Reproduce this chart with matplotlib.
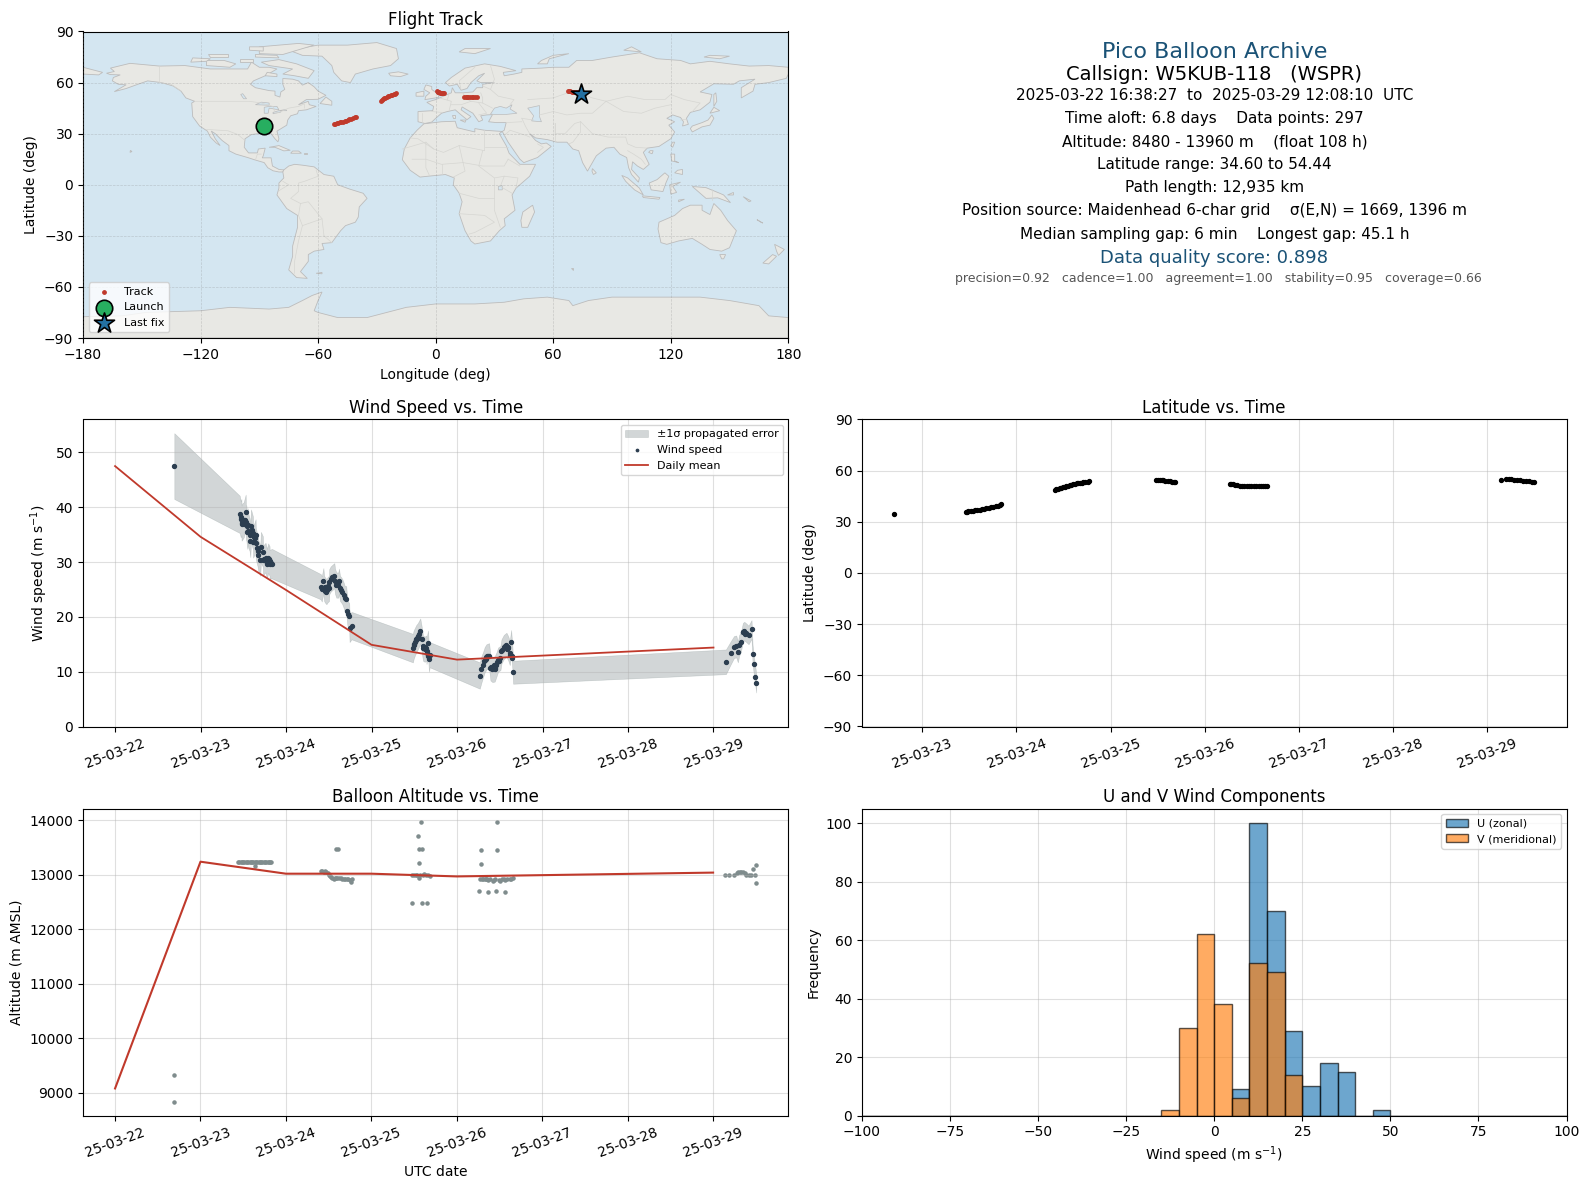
## Pico balloon flight summary figure, W5KUB-118
import matplotlib
matplotlib.use('Agg')
import matplotlib.pyplot as plt
import matplotlib.dates as mdates
import numpy as np
import pandas as pd

plt.rcParams['font.size'] = 10
plt.rcParams['font.family'] = 'DejaVu Sans'

# days are fractional days of March 2025
wind_day = [22.693,
            23.458, 23.470, 23.478, 23.480, 23.489, 23.505, 23.528, 23.530, 23.536, 23.547, 23.555, 23.559,
            23.574, 23.582, 23.590, 23.613, 23.615, 23.632, 23.644, 23.646, 23.667, 23.675, 23.698, 23.706,
            23.729, 23.731, 23.760, 23.776, 23.791, 23.807, 23.809, 23.834,
            24.406, 24.418, 24.437, 24.445, 24.456, 24.472, 24.484, 24.503, 24.505, 24.522, 24.542, 24.565,
            24.573, 24.588, 24.611, 24.619, 24.631, 24.646, 24.658, 24.673, 24.685, 24.704, 24.716, 24.723,
            24.739, 24.743, 24.766,
            25.484, 25.492, 25.508, 25.523, 25.543, 25.570, 25.586, 25.602, 25.621, 25.641, 25.643, 25.660,
            25.672, 25.680,
            26.266, 26.285, 26.305, 26.324, 26.344, 26.375, 26.391, 26.414, 26.441, 26.461, 26.480, 26.508,
            26.520, 26.547, 26.578, 26.598, 26.617, 26.633, 26.648, 26.656,
            29.145, 29.200, 29.240, 29.266, 29.285, 29.300, 29.320, 29.344, 29.360, 29.383, 29.410, 29.445,
            29.457, 29.470, 29.490, 29.500]
wind_speed = [47.5,
              38.7, 37.8, 38.2, 37.1, 37.4, 37.7, 39.1, 37.3, 37.1, 35.4, 36.7, 35.7,
              35.0, 33.9, 36.6, 35.3, 33.7, 34.3, 34.9, 33.4, 32.0, 31.2, 30.3, 32.7,
              31.9, 30.3, 30.8, 29.7, 30.7, 30.2, 29.6, 29.7,
              25.5, 25.1, 26.6, 25.2, 24.9, 24.6, 24.9, 25.2, 26.4, 26.9, 27.2, 27.5,
              26.5, 25.8, 25.8, 26.5, 25.2, 24.9, 24.6, 24.0, 23.4, 23.2, 21.0, 20.5,
              20.1, 17.9, 18.4,
              14.3, 14.9, 15.5, 16.0, 16.5, 17.4, 16.0, 14.3, 14.1, 14.3, 13.7, 15.2,
              12.3, 13.1,
              9.3, 10.4, 11.3, 12.2, 12.7, 12.9, 10.7, 10.4, 10.5, 11.3, 12.2, 12.5,
              13.7, 14.5, 14.9, 14.3, 13.4, 15.4, 12.5, 9.9,
              11.8, 13.4, 14.5, 14.6, 13.6, 14.8, 15.4, 17.2, 17.4, 17.1, 16.7, 17.7,
              13.2, 11.4, 9.1, 7.9]
wind_sigma = [6.0,
              3.4, 3.3, 3.3, 3.2, 3.3, 3.2, 3.2, 3.2, 3.2, 3.0, 3.1, 3.1,
              3.0, 3.0, 3.0, 3.0, 2.9, 2.9, 2.9, 2.9, 2.8, 2.8, 2.8, 2.8,
              2.8, 2.7, 2.7, 2.7, 2.7, 2.7, 2.6, 2.7,
              2.3, 2.3, 2.3, 2.3, 2.3, 2.3, 2.3, 2.3, 2.3, 2.3, 2.3, 2.3,
              2.3, 2.3, 2.3, 2.3, 2.3, 2.3, 2.3, 2.3, 2.3, 2.4, 2.4, 2.4,
              2.4, 2.5, 2.5,
              2.6, 2.6, 2.5, 2.5, 2.4, 2.3, 2.3, 2.3, 2.3, 2.3, 2.3, 2.3,
              2.3, 2.3,
              2.4, 2.4, 2.3, 2.3, 2.3, 2.3, 2.3, 2.3, 2.3, 2.2, 2.2, 2.2,
              2.2, 2.2, 2.2, 2.2, 2.2, 2.2, 2.1, 2.1,
              2.25, 2.1, 2.0, 2.0, 1.9, 1.9, 1.8, 1.7, 1.7, 1.7, 1.7, 1.7,
              1.7, 1.7, 1.7, 1.7]
# more dots read off the dense parts of the clusters, no band for these
extra_wind_day = [23.49, 23.51, 23.52, 23.54, 23.60, 23.62, 23.66, 23.74, 23.77, 23.80, 23.82,
                  24.43, 24.45, 24.46, 24.47, 24.49,
                  25.50, 25.52, 25.535, 25.55, 25.56, 25.60, 25.61, 25.63, 25.65, 25.665,
                  26.32, 26.34, 26.35, 26.36, 26.40, 26.42, 26.43, 26.45, 26.47, 26.49, 26.53, 26.56, 26.58,
                  26.60, 26.625, 26.64,
                  29.35, 29.37]
extra_wind_speed = [37.0, 36.9, 37.6, 36.5, 35.8, 34.6, 32.5, 30.6, 30.2, 30.5, 29.9,
                    25.2, 25.5, 24.8, 25.4, 25.6,
                    15.0, 15.7, 16.2, 16.2, 16.8, 14.6, 14.3, 14.5, 13.4, 12.9,
                    12.0, 12.4, 12.8, 12.9, 10.8, 10.9, 11.2, 10.7, 11.7, 12.0, 14.0, 14.7, 14.2,
                    14.5, 13.0, 12.8,
                    17.2, 16.9]

# daily means only exist on days with data, so no 27 and 28 March
mean_day = [22, 23, 24, 25, 26, 29]
mean_wind = [47.5, 34.6, 24.9, 14.9, 12.2, 14.4]
mean_alt = [9080, 13240, 13020, 13020, 12970, 13040]

alt_day = [22.693, 22.693,
           23.44, 23.455, 23.47, 23.485, 23.50, 23.515, 23.53, 23.545, 23.56, 23.575, 23.59, 23.605, 23.62, 23.635,
           23.64, 23.65, 23.665, 23.68, 23.695, 23.71, 23.725, 23.74, 23.755, 23.77, 23.785, 23.80, 23.815, 23.83,
           24.405, 24.42, 24.44, 24.455, 24.47, 24.49, 24.507, 24.52, 24.53, 24.545, 24.562, 24.575, 24.585, 24.59, 24.60,
           24.609, 24.62, 24.646, 24.66, 24.675, 24.69, 24.71, 24.73, 24.745, 24.757, 24.77,
           25.48, 25.48, 25.50, 25.52, 25.53, 25.545, 25.555, 25.56, 25.57, 25.58, 25.587, 25.59, 25.56, 25.60,
           25.62, 25.64, 25.65, 25.665, 25.69,
           26.26, 26.27, 26.28, 26.28, 26.29, 26.31, 26.33, 26.34, 26.355, 26.36, 26.37, 26.39, 26.42, 26.435, 26.45,
           26.46, 26.47, 26.47, 26.49, 26.51, 26.53, 26.55, 26.56, 26.57, 26.59, 26.62, 26.64, 26.66,
           29.14, 29.19, 29.25, 29.28, 29.295, 29.31, 29.33, 29.35, 29.37, 29.39, 29.415, 29.44, 29.47, 29.495, 29.50, 29.505]
alt_m = [8840, 9330,
         13240, 13240, 13240, 13240, 13240, 13240, 13240, 13240, 13240, 13240, 13240, 13240, 13240, 13240,
         13170, 13240, 13240, 13240, 13240, 13240, 13240, 13240, 13240, 13240, 13240, 13240, 13240, 13240,
         13075, 13070, 13060, 13065, 13060, 13030, 13000, 12980, 12960, 12940, 12920, 12935, 13470, 12950, 12945,
         13470, 12945, 12940, 12930, 12925, 12915, 12925, 12930, 12905, 12875, 12925,
         13000, 12490, 13000, 13000, 12990, 13720, 13220, 12940, 13000, 13960, 13480, 12490, 13480, 13000,
         13010, 13000, 12490, 13005, 12985,
         12700, 12930, 13460, 13200, 12930, 12925, 12915, 12915, 12925, 12690, 12905, 12915, 12880, 12900, 12925,
         12700, 13460, 13960, 12910, 12880, 12920, 12925, 12690, 12900, 12915, 12920, 12930, 12940,
         13000, 12995, 13000, 13030, 13050, 13055, 13060, 13055, 13030, 13000, 12995, 12995, 13105, 12995, 12845, 13180]

lat_day = [22.70,
           23.466, 23.48, 23.49, 23.514, 23.54, 23.562, 23.585, 23.611, 23.635, 23.659, 23.68, 23.707, 23.73, 23.755, 23.78, 23.803, 23.82, 23.837,
           24.404, 24.42, 24.44, 24.46, 24.476, 24.495, 24.512, 24.53, 24.548, 24.565, 24.584, 24.60, 24.62, 24.64, 24.656, 24.675, 24.692, 24.71, 24.733, 24.755, 24.774,
           25.486, 25.50, 25.522, 25.54, 25.558, 25.58, 25.606, 25.63, 25.654, 25.67, 25.688,
           26.264, 26.28, 26.30, 26.322, 26.345, 26.37, 26.395, 26.42, 26.445, 26.47, 26.495, 26.52, 26.545, 26.57, 26.595, 26.62, 26.64, 26.66,
           29.14, 29.20, 29.225, 29.25, 29.28, 29.31, 29.345, 29.38, 29.41, 29.44, 29.47, 29.50]
lat_deg = [34.75,
           35.9, 36.0, 36.1, 36.3, 36.5, 36.7, 36.9, 37.1, 37.4, 37.7, 38.0, 38.3, 38.6, 38.9, 39.2, 39.5, 39.9, 40.3,
           48.8, 49.0, 49.3, 49.6, 49.9, 50.2, 50.6, 51.0, 51.3, 51.6, 51.8, 52.1, 52.3, 52.5, 52.6, 52.8, 52.9, 53.1, 53.3, 53.5, 53.7,
           54.3, 54.3, 54.3, 54.3, 54.3, 54.2, 54.1, 53.8, 53.5, 53.5, 53.5,
           52.1, 52.0, 51.9, 51.7, 51.5, 51.3, 51.3, 51.3, 51.3, 51.3, 51.3, 51.3, 51.3, 51.3, 51.3, 51.3, 51.3, 51.3,
           54.3, 55.1, 55.1, 55.1, 54.8, 54.5, 54.3, 54.1, 53.9, 53.7, 53.4, 53.1]

track_lon = [-51.9, -51.2, -50.4, -49.7, -48.9, -48.1, -47.4, -46.5, -45.7, -44.9, -44.0, -43.1, -42.3, -41.4, -40.6,
             -28.0, -27.5, -27.0, -26.3, -25.7, -25.0, -24.3, -23.6, -23.0, -22.2, -21.5, -20.8, -20.0,
             0.5, 1.0, 1.4, 1.8, 2.3, 2.8, 3.3, 3.8, 4.3,
             14.6, 15.3, 16.0, 16.7, 17.5, 18.3, 19.2, 20.1, 21.0,
             67.7, 68.2, 68.8, 69.4, 69.9, 70.8, 71.6, 72.5, 73.3]
track_lat = [35.7, 35.9, 36.1, 36.3, 36.6, 36.8, 37.0, 37.3, 37.7, 38.0, 38.4, 38.8, 39.2, 39.6, 40.0,
             49.0, 49.5, 50.1, 50.7, 51.2, 51.6, 52.0, 52.4, 52.7, 53.0, 53.2, 53.5, 53.7,
             55.0, 54.7, 54.5, 54.3, 54.1, 54.0, 54.0, 53.9, 53.9,
             51.8, 51.8, 51.8, 51.8, 51.8, 51.8, 51.8, 51.8, 51.8,
             54.9, 54.8, 54.8, 54.7, 54.7, 54.5, 54.4, 54.3, 54.1]
launch_lon, launch_lat = -87.7, 34.7
last_lon, last_lat = 74.3, 53.5

hist_edges = list(range(-100, 105, 5))
u_left = [5, 10, 15, 20, 25, 30, 35, 45]
u_count = [9, 100, 70, 29, 10, 18, 15, 2]
v_left = [-15, -10, -5, 0, 5, 10, 15, 20]
v_count = [2, 30, 62, 38, 6, 52, 49, 14]

# simplified outlines, (lon, lat)
land = {
    'north_america': [(-168,65.5),(-164,66.5),(-166,68.5),(-156,71.3),(-141,69.7),(-128,70),(-115,68),(-108,68),(-96,68),(-94,72),(-90,69),(-85,69),(-81,68),(-87,64),(-93,61),(-94.5,59),(-92,57),(-85,55.3),(-82,55),(-82,52.5),(-79.5,51.5),(-79,54.5),(-77,56),(-78,59),(-78,62.4),(-73,62),(-70,61),(-68,58.5),(-65,60),(-62,57.5),(-60,55),(-56,52.5),(-60,50.2),(-66,50),(-70,47),(-65,49),(-64.5,47),(-61,46),(-66,44),(-70,43.5),(-70.5,41.7),(-74,40.5),(-75.5,38),(-76,35),(-81,31.5),(-80,27),(-80.5,25.2),(-82,27),(-84,30),(-89,30.2),(-94,29.5),(-97.3,27),(-97.7,22),(-95.5,18.7),(-91,18.7),(-90.5,21),(-87,21.5),(-88,17),(-88.5,15.8),(-84,15.8),(-83.3,11),(-80,9),(-77.5,8.7),(-78,7.5),(-80,7.5),(-83,8.2),(-85.7,10),(-87.5,13),(-92,14.5),(-96,16),(-102,18),(-105.5,20),(-105.5,23),(-109,26),(-112.5,30),(-114.5,31.5),(-112.5,27),(-110,23),(-112,24.5),(-115,28),(-116.5,31.5),(-120.5,34.5),(-124,40),(-124.5,48),(-123,49),(-127.5,51),(-130,55),(-134,58),(-140,60),(-147,61),(-152,59),(-158,56.5),(-164,54.7),(-158,58.7),(-162,59),(-165,61),(-164.5,63),(-161,64.5),(-166,64.7)],
    'greenland': [(-73,78.2),(-68,76),(-58,75.5),(-53,70),(-52,66),(-48,61),(-43.5,60),(-41,65),(-32,68),(-23,70),(-19,74),(-20,80),(-30,83.5),(-45,82),(-60,82),(-70,80)],
    'baffin': [(-80,73.5),(-71,71),(-62,67),(-65,62.5),(-72,64),(-78,65),(-73,68),(-85,70),(-89,72)],
    'victoria': [(-117,70),(-105,69),(-102,71),(-108,73),(-117,73)],
    'ellesmere': [(-90,77),(-78,76.5),(-62,82),(-70,83),(-90,81)],
    'banks': [(-125,72),(-117,72.5),(-115,74),(-124,74.5)],
    'devon': [(-92,75),(-80,74.5),(-81,76),(-92,76.5)],
    'melville': [(-115,75),(-106,75),(-106,76.5),(-116,76.5)],
    'prince_of_wales': [(-100,72),(-93,72),(-93,74),(-100,74)],
    'axel_heiberg': [(-95,79),(-88,78.5),(-88,81),(-95,81)],
    'southampton': [(-87,64),(-81,63.5),(-81,65),(-86,66)],
    'newfoundland': [(-59,47.7),(-53,46.7),(-53,49),(-56,51.5)],
    'cuba': [(-85,22),(-80,23),(-74.2,20.2),(-77.5,19.9),(-82,22)],
    'hispaniola': [(-74,18.5),(-68.5,18.5),(-70,19.8),(-73,19.8)],
    'puerto_rico': [(-67,18),(-65.7,18),(-65.7,18.5),(-67,18.5)],
    'hawaii': [(-156,19),(-155,19.5),(-155.8,20.2)],
    'south_america': [(-77.5,8.7),(-75,11),(-72,12),(-68,11.5),(-62,10.5),(-57,6),(-52,5),(-50,0),(-44,-2.5),(-37,-5),(-35,-8),(-39,-13),(-39.5,-19),(-41,-22),(-46,-24),(-48.5,-27),(-53,-34),(-58,-34.5),(-57,-38),(-62,-39),(-65,-41),(-65,-45),(-69,-51),(-65.5,-55),(-71,-54.5),(-75,-50),(-73,-42),(-73,-36),(-70.5,-25),(-70.5,-18),(-76,-14),(-81,-6),(-80,-2),(-80,1),(-77.5,4),(-78,7.5)],
    'falklands': [(-61,-52),(-58,-51.5),(-58,-52.3)],
    'africa': [(-6,35.8),(3,37),(10,37.3),(11,33.5),(20,31),(20,33),(25,32),(34,31.3),(32.5,30),(34,27),(36,23),(37.5,18.5),(43,12),(51,12),(48,5),(41,-2),(39,-6),(40.5,-15),(35,-20),(35.5,-24),(32.5,-27),(28,-33),(20,-34.8),(18,-33),(15,-27),(12,-17),(13.5,-10),(12,-5),(9,0),(9.5,4),(5,6),(-4,5),(-8,4.5),(-13,8.5),(-17,14.7),(-16,21),(-13,27.5),(-9.5,32)],
    'eurasia': [(-9,43),(-9,37),(-5.5,36),(-2,36.8),(0,39),(3,42),(6,43),(10,44),(12.5,41.5),(16,38.2),(18,40),(13,44),(13.5,45.7),(19,42),(22,37),(24,38),(23,40.5),(26,41),(29,41.2),(27,37),(31,36.5),(36,36.5),(35,32),(34,31.3),(34.8,29.6),(37,25),(43,15),(45,13),(52,16),(59,22.5),(56.5,24.5),(54,24),(51,26),(48,30),(51,27.5),(57,26.5),(62,25),(67,25),(70,21),(73,20),(75,13),(77.5,8),(80,13),(82,17),(87,21.5),(91,22),(94,18),(97.5,16),(98.5,10),(100,6),(103.5,1.5),(104,4),(100,9),(100.5,13.5),(103,11),(106,9),(109,12),(106,19),(108,21.5),(114,22.5),(120,27),(122,31),(119,35),(122,37),(118,39),(121,41),(125,39.5),(126.5,37),(126,34.5),(129,35.5),(128,39),(130,42.5),(135,44),(140,48.5),(141,53),(135,54.5),(142,59.3),(152,59),(155,61),(163,62),(156,57),(156,51),(162,55),(163,59),(170,60),(179,62.5),(180,65),(180,69),(170,70),(160,69.7),(150,71),(140,72.5),(130,71),(125,73),(113,74),(104,77.5),(90,75),(80,73),(72,73),(68,69),(60,69),(54,68.5),(44,68),(44,66),(40,65),(35,64),(34.5,66),(41,67),(33,69.5),(25,71),(15,68.5),(8,63),(5,60),(7,58),(11,59),(13,55.5),(16,56.5),(18,60),(22,64),(25,65.5),(21,61),(23,60),(30,60),(24,59),(24,57),(21,57),(19,54.5),(14,54),(10,54),(8.5,57),(8,54),(4,52),(0,50),(-1.5,49.5),(-4.5,48.4),(-1,46),(-1.5,43.5)],
    'chukotka': [(-180,65),(-172,64.5),(-170,66),(-175,67.5),(-180,69)],
    'britain': [(-5.5,50),(1.5,51.3),(1.5,53),(-2,56),(-2,57.7),(-5,58.6),(-6,56),(-3,54),(-5,52)],
    'ireland': [(-10,52),(-6,52),(-6,55),(-10,54)],
    'iceland': [(-24,65.5),(-19,66.3),(-14,65),(-18,63.5),(-23,64)],
    'svalbard': [(12,78),(20,77),(28,80),(15,80)],
    'novaya_zemlya': [(52,71),(57,71),(58,74),(68,77),(60,76),(54,73)],
    'severnaya': [(96,79),(105,78),(100,81)],
    'new_siberian': [(137,75),(145,74),(150,75.5),(140,76)],
    'sardinia': [(9,39),(9.7,39),(9.7,41),(8.5,41)],
    'sicily': [(12.5,38),(15.5,38),(15,36.7)],
    'madagascar': [(49.5,-12),(50.5,-16),(47,-25),(44,-25),(43.5,-21),(44.5,-16)],
    'sri_lanka': [(80,9.5),(82,7),(80.5,6),(79.8,8)],
    'honshu': [(130,33),(131,31),(136,34),(140,35),(142,39),(141,41),(139,38),(136,36.5),(131,34.5)],
    'hokkaido': [(140,42),(145,43.5),(142,45.5)],
    'sakhalin': [(142,46),(143.5,49),(143,54),(142,53)],
    'hainan': [(108.7,19),(110.5,18.2),(111,20),(109.5,20)],
    'taiwan': [(120,23),(121,22),(122,25),(121,25)],
    'luzon': [(120,18),(122,18),(122,14),(124,13),(120.5,14)],
    'mindanao': [(122,7),(126,6),(126,9),(123.5,8.5)],
    'borneo': [(109,1),(113,3),(117,7),(119,5),(117.5,1),(116,-4),(110,-3)],
    'sumatra': [(95,5.5),(98,4),(104,-2),(106,-6),(101.5,-3),(97,2)],
    'java': [(105.5,-6.5),(114.5,-7.5),(114,-8.5),(106,-7.5)],
    'timor': [(124,-9),(127,-8.5),(124,-10)],
    'sulawesi': [(119.5,0),(125,1.5),(121,-1),(123,-4.5),(120,-5.5)],
    'new_guinea': [(131,-1),(138,-1.7),(145,-5),(147,-6),(150.5,-10.5),(144,-7.7),(138,-8),(134,-4)],
    'bismarck': [(149,-6),(152,-4.5),(152,-6)],
    'solomon': [(157,-7),(161,-9.5),(160,-10)],
    'new_caledonia': [(164,-20.5),(167,-22.5),(166,-22)],
    'australia': [(114,-22),(122,-18),(126,-14),(130,-12),(136,-12),(136,-15),(140,-17.5),(142,-11),(145.5,-15),(149,-21),(153.5,-27),(150,-37),(146,-39),(140,-38),(136,-35),(131,-31.5),(124,-33),(118,-35),(115,-34),(113.5,-26)],
    'tasmania': [(145,-41),(148,-41),(147,-43.5),(146,-43.5)],
    'nz_north': [(173,-35),(178,-38),(175,-41.5),(174,-39)],
    'nz_south': [(172,-41),(174,-42),(170,-46.5),(167,-46)],
    'kerguelen': [(69,-49),(70,-49),(70,-50)],
    'antarctica': [(-180,-77.5),(-160,-77),(-148,-75),(-120,-74),(-105,-72),(-95,-72.5),(-85,-73),(-75,-72),(-68,-68),(-63,-65),(-58,-63),(-60,-68),(-62,-74),(-60,-75),(-50,-78),(-35,-78),(-25,-75),(-15,-72),(0,-70),(20,-70),(35,-69),(45,-67),(57,-66),(68,-68),(70,-71),(78,-68),(90,-66),(110,-66),(135,-66),(150,-68),(165,-71),(170,-77),(180,-78),(180,-90),(-180,-90)],
}
inland_water = {
    'black_sea': [(28,41.5),(30,45),(33,46),(36,45),(39,47),(38,44.5),(41.5,42),(36,41.3),(31,41.2)],
    'caspian': [(47,45),(53,46.5),(53,40),(54,37),(49,37.5),(50,40.5)],
    'superior': [(-92,47),(-85,46.7),(-85,48),(-89,48.5)],
    'michigan_huron': [(-87.5,42),(-85.5,42),(-85,45),(-80,44),(-81,46),(-85,46),(-87.5,45.5)],
    'erie_ontario': [(-83,41.7),(-79,42.7),(-79,43.5),(-76,43.5),(-76.5,44.2),(-80,43.5),(-83,42.5)],
    'winnipeg': [(-98,50.5),(-96.5,50.5),(-98.5,53.5),(-99.5,53)],
    'victoria_lake': [(32,-1),(34,-0.5),(34,-3),(32,-3)],
}
borders = [
    [(-123,49),(-95,49),(-89,48),(-83,46),(-82,42),(-79,43),(-75,45),(-70,46),(-67,47.5),(-67,45)],
    [(-141,69.7),(-141,60),(-135,59),(-130,55)],
    [(-117,32.5),(-106,31.7),(-101,29.5),(-97.3,26)],
    [(-92,14.5),(-91,18),(-89,18)],
    [(-70,-18),(-69,-11),(-74,-8),(-70,-4),(-70,1),(-67,2),(-60,5),(-61,8.5)],
    [(-70,-18),(-68,-24),(-70,-33),(-72,-45),(-72,-52)],
    [(-57,-30),(-58,-20),(-65,-10),(-69,-11)],
    [(-68,-24),(-58,-20)],
    [(-57,-30),(-53,-34)],
    [(-78,2),(-75,0),(-80,-3.5)],
    [(-13,27.5),(-9,27),(-1,21),(4,19),(12,23),(25,20),(25,32)],
    [(25,22),(37,22)],
    [(-17,21),(-5,25),(-1,21)],
    [(12,23),(14,13),(15,8),(9,4.5)],
    [(-5,25),(-5,10),(-3,5)],
    [(3,12),(3,6.5)],
    [(-12,15),(-5,15),(3,12),(14,13)],
    [(24,20),(22,11),(30,4),(35,5),(42,4),(41,-2)],
    [(14,13),(24,11),(35,11),(37,15)],
    [(12,-5),(22,-8),(30,-8),(30,-15),(33,-25)],
    [(12,-17),(25,-18),(30,-22),(20,-28),(17,-29)],
    [(35,5),(33,-1),(39,-5)],
    [(30,4),(30,-8)],
    [(37,15),(43,11)],
    [(-2,43),(3,42.5)],
    [(-7,42),(-7,37)],
    [(2,51),(8,49),(7,44)],
    [(7,54),(6,50)],
    [(14,54),(15,51),(18,49),(24,48),(24,51),(23,54)],
    [(24,48),(29,45)],
    [(18,49),(13,47),(8,47)],
    [(22,41),(26,42),(22,48)],
    [(28,70),(30,62),(28,56),(32,52),(40,50),(38,47)],
    [(24,58),(28,56)],
    [(13,55.5),(12,61),(20,69)],
    [(47,50),(60,51),(70,55),(80,51),(87,49)],
    [(87,49),(98,52),(107,50),(117,50),(120,53),(127,50),(135,48),(131,43)],
    [(87,49),(96,43),(105,42),(112,45),(120,47)],
    [(74,37),(80,30),(88,28),(97,28),(98,24),(102,22),(108,21.5)],
    [(74,37),(74,31),(70,25),(68,24)],
    [(61,36),(61,30),(66,30),(71,36),(74,37)],
    [(61,36),(61,25)],
    [(44,39),(46,34),(48,30)],
    [(35,29),(38,32),(46,29),(48,28)],
    [(52,19),(55,22),(52,24)],
    [(36,36.5),(44,37)],
    [(44,39),(50,38)],
    [(53,41),(60,43),(67,41),(74,42),(80,42),(87,49)],
    [(98,20),(101,18),(105,15),(107,12)],
    [(125,38),(128,38.5)],
    [(141,-2.5),(141,-9)],
]

info_text = ['Pico Balloon Archive',
             'Callsign: W5KUB-118   (WSPR)',
             '2025-03-22 16:38:27  to  2025-03-29 12:08:10  UTC',
             'Time aloft: 6.8 days    Data points: 297',
             'Altitude: 8480 - 13960 m    (float 108 h)',
             'Latitude range: 34.60 to 54.44',
             'Path length: 12,935 km',
             'Position source: Maidenhead 6-char grid    \u03c3(E,N) = 1669, 1396 m',
             'Median sampling gap: 6 min    Longest gap: 45.1 h',
             'Data quality score: 0.898',
             'precision=0.92   cadence=1.00   agreement=1.00   stability=0.95   coverage=0.66']


def to_dates(days):
    return pd.Timestamp('2025-03-01') + pd.to_timedelta(np.array(days) - 1, unit='D')


W, H = 1589, 1189
def place(left, top, right, bottom):
    return fig.add_axes([left / W, 1 - bottom / H, (right - left) / W, (bottom - top) / H])


def date_axis(ax):
    ax.xaxis.set_major_locator(mdates.DayLocator())
    ax.xaxis.set_major_formatter(mdates.DateFormatter('%y-%m-%d'))
    ax.tick_params(axis='x', labelrotation=20)
    ax.grid(True, alpha=0.4)


fig = plt.figure(figsize=(W / 100, H / 100), dpi=100)

# map
ax = place(83, 31.5, 788.3, 338)
ax.set_facecolor('#d4e6f1')
for name, outline in land.items():
    ax.fill(*zip(*outline), facecolor='#e8e8e4', edgecolor='#bcbcbc', linewidth=0.6, zorder=1)
for name, outline in inland_water.items():
    ax.fill(*zip(*outline), facecolor='#d4e6f1', edgecolor='#bcbcbc', linewidth=0.5, zorder=1.1)
for line in borders:
    ax.plot(*zip(*line), color='#d6d6d2', linewidth=0.5, zorder=1.2)
ax.scatter(track_lon, track_lat, s=6, color='#c0392b', zorder=3, label='Track')
ax.scatter(launch_lon, launch_lat, s=140, color='#27ae60', edgecolor='black', linewidth=1.2, zorder=4, label='Launch')
ax.scatter(last_lon, last_lat, s=230, marker='*', color='#2471a3', edgecolor='black', linewidth=1.2, zorder=5, label='Last fix')
ax.set_xlim(-180, 180)
ax.set_ylim(-90, 90)
ax.set_xticks(range(-180, 181, 60))
ax.set_yticks(range(-90, 91, 30))
ax.grid(True, color='gray', linewidth=0.5, linestyle='--', alpha=0.3, zorder=2)
ax.set_axisbelow(False)
ax.set_xlabel('Longitude (deg)', labelpad=4.5)
ax.set_ylabel('Latitude (deg)')
ax.set_title('Flight Track', fontsize=12, pad=5)
ax.legend(loc='lower left', fontsize=8)

# info block, pixel rows measured on the reference
info_sizes = [16, 14, 11, 11, 11, 11, 11, 11, 11, 13, 9]
info_colors = ['#1a5276', 'black', 'black', 'black', 'black', 'black', 'black', 'black', 'black', '#1a5276', '#555555']
info_rows = [51, 74, 94, 117, 140, 162, 185, 208, 231, 255, 275]
info_x = [1214.5] * 10 + [1218.5]
for text, size, color, row, x in zip(info_text, info_sizes, info_colors, info_rows, info_x):
    fig.text(x / W, 1 - row * 1.0133 / H, text, fontsize=size, color=color, ha='center', va='center')

# wind speed
ax = place(83, 419.5, 788.3, 726.5)
wind_t = to_dates(wind_day)
speed = np.array(wind_speed)
sigma = np.array(wind_sigma)
ax.fill_between(wind_t, speed - sigma, speed + sigma, color='#7f8c8d', alpha=0.35, linewidth=0.4, label='\u00b11\u03c3 propagated error')
ax.scatter(wind_t, speed, s=8, color='#2c3e50', zorder=3, label='Wind speed')
ax.scatter(to_dates(extra_wind_day), extra_wind_speed, s=8, color='#2c3e50', zorder=3)
ax.plot(to_dates(mean_day), mean_wind, color='#c0392b', linewidth=1.3, zorder=4, label='Daily mean')
ax.set_ylim(0, 56)
date_axis(ax)
ax.set_ylabel('Wind speed (m s$^{-1}$)')
ax.set_title('Wind Speed vs. Time', fontsize=12, pad=5)
ax.legend(loc='upper right', fontsize=8, markerscale=0.6)

# latitude
ax = place(862, 419.5, 1566.5, 726.5)
ax.scatter(to_dates(lat_day), lat_deg, s=8, color='black')
ax.set_ylim(-90, 90)
ax.set_yticks(range(-90, 91, 30))
date_axis(ax)
ax.set_ylabel('Latitude (deg)')
ax.set_title('Latitude vs. Time', fontsize=12, pad=5)

# altitude
ax = place(83, 808.5, 788.3, 1115.5)
ax.scatter(to_dates(alt_day), alt_m, s=5, color='#7f8c8d')
ax.plot(to_dates(mean_day), mean_alt, color='#c0392b', linewidth=1.5)
date_axis(ax)
ax.set_xlabel('UTC date')
ax.set_ylabel('Altitude (m AMSL)')
ax.set_title('Balloon Altitude vs. Time', fontsize=12, pad=5)

# U and V histogram
ax = place(862, 808.5, 1566.5, 1115.5)
ax.hist(np.array(u_left) + 2.5, bins=hist_edges, weights=u_count, color='#1f77b4', alpha=0.65, edgecolor='black', label='U (zonal)')
ax.hist(np.array(v_left) + 2.5, bins=hist_edges, weights=v_count, color='#ff7f0e', alpha=0.65, edgecolor='black', label='V (meridional)')
ax.set_xlim(-100, 100)
ax.grid(True, alpha=0.4)
ax.set_axisbelow(True)
ax.set_xlabel('Wind speed (m s$^{-1}$)')
ax.set_ylabel('Frequency')
ax.set_title('U and V Wind Components', fontsize=12, pad=5)
ax.legend(loc='upper right', fontsize=8)

fig.savefig('out.png', dpi=100)
